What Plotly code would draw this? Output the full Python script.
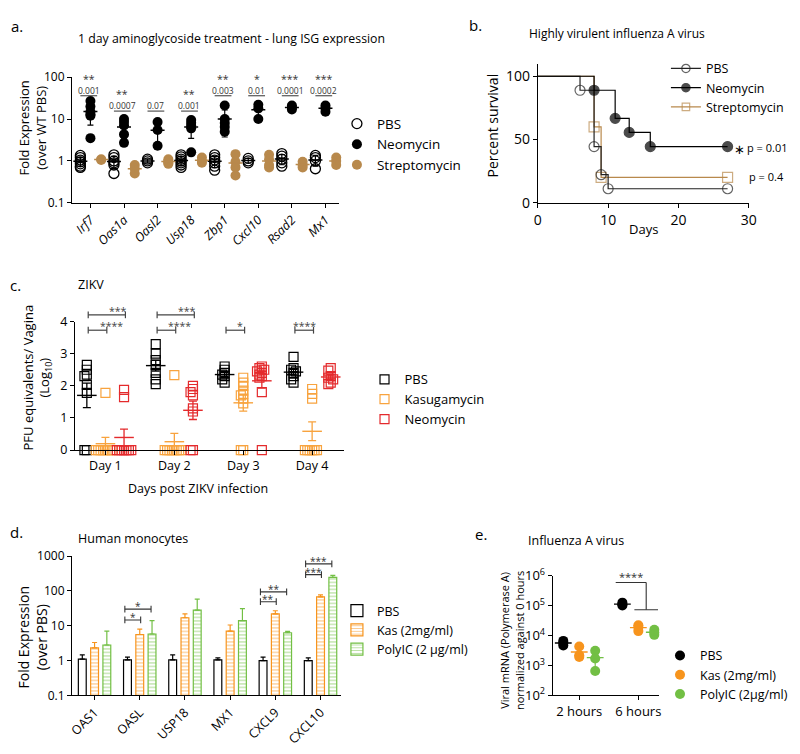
import numpy as np
import plotly.graph_objects as go

W, H = 800, 754
FONT = "Open Sans"
TAN = "#b8894c"
ORANGE_C = "#f8a33e"
RED_C = "#e42a2c"
ORANGE = "#f7941d"
GREEN = "#72bf44"

# ---------------- panel a data ----------------
genes_a = ["Irf7", "Oas1a", "Oasl2", "Usp18", "Zbp1", "Cxcl10", "Rsad2", "Mx1"]
pbs_a = [
    [1.35, 1.2, 1.05, 0.95, 0.85, 0.75, 0.7],
    [1.4, 1.2, 1.0, 0.9, 0.8, 0.5],
    [1.1, 1.0, 0.9],
    [1.4, 1.25, 1.1, 1.0, 0.9, 0.8, 0.7],
    [1.4, 1.2, 1.05, 0.9, 0.75, 0.6],
    [1.15, 1.0, 0.9],
    [1.5, 1.3, 1.1, 0.9, 0.75],
    [1.35, 1.2, 1.0, 0.65],
]
neo_a = [
    [27, 20, 15, 13, 12, 3.5],
    [10, 8.5, 7, 4.3, 2.7],
    [8.5, 5.5, 2.3],
    [9.5, 8.2, 7, 6, 1.6],
    [21, 10, 8, 6.5, 5],
    [22, 18, 10],
    [21, 19, 17],
    [21, 18, 15],
]
strep_a = [
    [1.1, 1.05],
    [0.8, 0.65, 0.5],
    [1.1, 1.0, 0.9, 0.85],
    [1.2, 1.0, 0.9],
    [1.45, 0.95, 0.7, 0.45],
    [1.4, 1.1, 0.8, 0.7],
    [0.95, 0.8, 0.7],
    [1.2, 1.0, 0.8],
]
pvals_a = ["0.001", "0.0007", "0.07", "0.001", "0.003", "0.01", "0.0001", "0.0002"]
stars_a = ["**", "**", "", "**", "**", "*", "***", "***"]

# ---------------- panel b data ----------------
km_days_pbs = [0, 6, 8, 9, 10, 27]
km_surv_pbs = [100, 88.9, 44.4, 22.2, 11.1, 11.1]
km_days_neo = [0, 8, 11, 13, 16, 27]
km_surv_neo = [100, 88.9, 66.7, 55.6, 44.4, 44.4]
km_days_strep = [0, 8, 9, 27]
km_surv_strep = [100, 60, 20, 20]

# ---------------- panel c data ----------------
days_c = ["Day 1", "Day 2", "Day 3", "Day 4"]
pbs_c = [
    [2.65, 2.5, 2.35, 2.3, 2.03, 1.78, 0, 0],
    [3.3, 3.0, 2.8, 2.65, 2.4, 2.2, 2.05],
    [2.6, 2.5, 2.4, 2.35, 2.3, 2.2, 2.1],
    [2.9, 2.55, 2.5, 2.45, 2.4, 2.3, 2.2, 2.1],
]
kas_c = [
    [1.78, 0, 0, 0, 0, 0, 0, 0, 0],
    [2.33, 0, 0, 0, 0, 0, 0, 0, 0],
    [2.25, 2.1, 2.0, 1.85, 1.75, 1.7, 1.6, 1.45, 0, 0],
    [1.9, 1.75, 1.6, 0, 0, 0, 0, 0, 0],
]
neo_c = [
    [1.87, 1.65, 0, 0, 0, 0, 0, 0, 0],
    [2.0, 1.9, 1.8, 1.7, 1.3, 1.2, 0, 0],
    [2.6, 2.55, 2.5, 2.5, 2.45, 2.4, 2.35, 2.3, 2.25, 1.8, 0],
    [2.55, 2.47, 2.3, 2.25, 2.2, 2.1, 2.05],
]

# ---------------- panel d data ----------------
genes_d = ["OAS1", "OASL", "USP18", "MX1", "CXCL9", "CXCL10"]
pbs_d = [1.1, 1.05, 1.05, 1.05, 1.0, 1.0]
pbs_d_top = [1.45, 1.25, 1.45, 1.2, 1.25, 1.2]
kas_d = [2.3, 5.6, 17, 7, 22, 68]
kas_d_top = [3.3, 8, 22, 10.5, 27, 77]
poly_d = [2.8, 5.8, 28, 14, 6.3, 245]
poly_d_top = [7, 14, 58, 31, 6.9, 280]

# ---------------- panel e data ----------------
times_e = ["2 hours", "6 hours"]
pbs_e = [[6600, 5600, 4600], [125000, 110000, 100000]]
kas_e = [[4300, 2200, 1900], [22000, 19000, 14000]]
poly_e = [[3100, 1700, 650], [15500, 12500, 10500]]

# ================= helpers =================
def PX(px):
    return px / W

def PY(py):
    return 1 - py / H

def axstyle(**kw):
    base = dict(showline=True, linecolor="black", linewidth=1, ticks="outside",
                ticklen=4, tickwidth=1, tickcolor="black", showgrid=False,
                zeroline=False, tickfont=dict(family=FONT, size=12, color="black"))
    base.update(kw)
    return base

annotations = []
shapes = []

def txt(px, py, text, size, xanchor="center", yanchor="middle", angle=0, color="black"):
    annotations.append(dict(x=PX(px), y=PY(py), xref="paper", yref="paper", text=text,
                            showarrow=False, xanchor=xanchor, yanchor=yanchor,
                            textangle=angle, font=dict(family=FONT, size=size, color=color)))

def swarm(vals, step, thr):
    placed = []
    offs = [0.0] * len(vals)
    order = sorted(range(len(vals)), key=lambda i: -vals[i])
    cands = [0.0]
    for j in range(1, 40):
        cands += [-j * step, j * step]
    for i in order:
        v = vals[i]
        for c in cands:
            if all(abs(v - pv) >= thr or abs(c - pc) >= step * 0.99 for pv, pc in placed):
                break
        placed.append((v, c))
        offs[i] = c
    return offs

fig = go.Figure()

# ================= panel a =================
groups_a = [("PBS", pbs_a, -0.3, dict(symbol="circle-open", color="black", size=10, line=dict(width=1.3, color="black"))),
            ("Neomycin", neo_a, 0.0, dict(symbol="circle", color="black", size=10)),
            ("Streptomycin", strep_a, 0.32, dict(symbol="circle", color=TAN, size=10))]
for name, data, off, mk in groups_a:
    xs, ys = [], []
    for i, vals in enumerate(data):
        xs += [i + off] * len(vals)
        ys += vals
    fig.add_trace(go.Scatter(x=xs, y=ys, mode="markers", marker=mk, name=name,
                             xaxis="x", yaxis="y", legend="legend", cliponaxis=False))
for name, data, off, mk in groups_a:
    col = "black" if name != "Streptomycin" else TAN
    means = [np.mean(v) for v in data]
    sds = [np.std(v, ddof=1) for v in data]
    fig.add_trace(go.Scatter(x=[i + off for i in range(len(data))], y=means, mode="markers",
                             marker=dict(symbol="line-ew", size=10, line=dict(width=1.5, color=col)),
                             error_y=dict(type="data", array=sds, color=col, thickness=1.2, width=3),
                             showlegend=False, xaxis="x", yaxis="y", hoverinfo="skip"))
sig_h_a = [36, 15.5, 15.5, 15.5, 36, 36, 36, 36]
for i in range(len(genes_a)):
    h = sig_h_a[i]
    fig.add_trace(go.Scatter(x=[i - 0.3, i + 0.2], y=[h, h], mode="lines",
                             line=dict(color="#333", width=1), showlegend=False,
                             xaxis="x", yaxis="y", hoverinfo="skip"))
    annotations.append(dict(x=i - 0.05, y=np.log10(h), xref="x", yref="y", text=pvals_a[i],
                            showarrow=False, yanchor="bottom", yshift=-2,
                            font=dict(family=FONT, size=8.5, color="#333")))
    if stars_a[i]:
        annotations.append(dict(x=i - 0.05, y=np.log10(h), xref="x", yref="y", text=stars_a[i],
                                showarrow=False, yanchor="bottom", yshift=8,
                                font=dict(family=FONT, size=10.5, color="#333")))

# ================= panel b =================
km = [("Streptomycin", km_days_strep, km_surv_strep, TAN, "square-open"),
      ("PBS", km_days_pbs, km_surv_pbs, "#222", "circle-open"),
      ("Neomycin", km_days_neo, km_surv_neo, "black", "circle")]
for name, d, s, col, sym in km:
    sizes = [0] + [10] * (len(d) - 1)
    fig.add_trace(go.Scatter(x=d, y=s, mode="lines+markers", line_shape="hv",
                             line=dict(color=col, width=1.2),
                             marker=dict(symbol=sym, size=sizes, color=col, line=dict(width=1.2, color=col)),
                             name=name, xaxis="x2", yaxis="y2", legend="legend2",
                             legendrank={"PBS": 1, "Neomycin": 2, "Streptomycin": 3}[name],
                             cliponaxis=False))

# ================= panel c =================
offs_c = {"PBS": -0.27, "Kasugamycin": 0.0, "Neomycin": 0.27}
groups_c = [("PBS", pbs_c, "black"), ("Kasugamycin", kas_c, ORANGE_C), ("Neomycin", neo_c, RED_C)]
for name, data, col in groups_c:
    xs, ys = [], []
    for d, vals in enumerate(data):
        jit = swarm(vals, 0.035, 0.1)
        xs += [d + 1 + offs_c[name] + j for j in jit]
        ys += vals
    fig.add_trace(go.Scatter(x=xs, y=ys, mode="markers", name=name,
                             marker=dict(symbol="square-open", size=9, color=col, line=dict(width=1.2, color=col)),
                             xaxis="x3", yaxis="y3", legend="legend3", cliponaxis=False))
for name, data, col in groups_c:
    means = [np.mean(v) for v in data]
    sems = [np.std(v, ddof=1) / np.sqrt(len(v)) for v in data]
    fig.add_trace(go.Scatter(x=[d + 1 + offs_c[name] for d in range(len(data))], y=means, mode="markers",
                             marker=dict(symbol="line-ew", size=14, line=dict(width=1.4, color=col)),
                             error_y=dict(type="data", array=sems, color=col, thickness=1.3, width=4),
                             showlegend=False, xaxis="x3", yaxis="y3", hoverinfo="skip", cliponaxis=False))

dom_x3 = [PX(72), PX(345)]
rng_x3 = [0.557, 4.46]
dom_y3 = [PY(451), PY(319)]
rng_y3 = [0, 4]

def c2p_x(v):
    return dom_x3[0] + (v - rng_x3[0]) / (rng_x3[1] - rng_x3[0]) * (dom_x3[1] - dom_x3[0])

def c2p_y(v):
    return dom_y3[0] + (v - rng_y3[0]) / (rng_y3[1] - rng_y3[0]) * (dom_y3[1] - dom_y3[0])

brackets_c = [(1, "Kasugamycin", 3.73, "****"), (1, "Neomycin", 4.21, "***"),
              (2, "Kasugamycin", 3.73, "****"), (2, "Neomycin", 4.21, "***"),
              (3, "Kasugamycin", 3.73, "*"), (4, "Kasugamycin", 3.73, "****")]
cap = 3.5 / H
for day, other, h, st in brackets_c:
    x0 = c2p_x(day + offs_c["PBS"] + 0.02)
    x1 = c2p_x(day + offs_c[other] + 0.02)
    y = c2p_y(h)
    for (a0, b0, a1, b1) in [(x0, y, x1, y), (x0, y - cap, x0, y + cap), (x1, y - cap, x1, y + cap)]:
        shapes.append(dict(type="line", xref="paper", yref="paper", x0=a0, y0=b0, x1=a1, y1=b1,
                           line=dict(color="#444", width=1.2)))
    annotations.append(dict(x=(x0 + x1) / 2, y=y, xref="paper", yref="paper", text=st, showarrow=False,
                            yanchor="bottom", yshift=-5, font=dict(family=FONT, size=10.5, color="#444")))

# ================= panel d =================
groups_d = [("PBS", pbs_d, pbs_d_top, "black", ""), ("Kas (2mg/ml)", kas_d, kas_d_top, ORANGE, "-"),
            ("PolyIC (2 µg/ml)", poly_d, poly_d_top, GREEN, "-")]
for name, vals, tops, col, pat in groups_d:
    mk = dict(color="white", line=dict(color=col, width=1.2))
    if pat:
        mk["pattern"] = dict(shape=pat, fgcolor=col, bgcolor="white", size=3.5, solidity=0.35)
    fig.add_trace(go.Bar(x=list(range(len(genes_d))), y=vals, name=name, marker=mk,
                         error_y=dict(type="data", symmetric=False,
                                      array=[t - v for t, v in zip(tops, vals)],
                                      arrayminus=[0] * len(vals), color=col, thickness=1.2, width=2.5),
                         xaxis="x4", yaxis="y4", legend="legend4"))
brackets_d = [(1, 14.7, 0.02, "*"), (1, 30, 0.25, "*"), (4, 49, 0.02, "**"), (4, 94, 0.25, "**"),
              (5, 295, 0.02, "***"), (5, 600, 0.25, "***")]
capf = 10 ** (3.5 / 36)
for g, h, right, st in brackets_d:
    x0, x1 = g - 0.33, g + right
    for xx, yy in [([x0, x1], [h, h]), ([x0, x0], [h / capf, h * capf]), ([x1, x1], [h / capf, h * capf])]:
        fig.add_trace(go.Scatter(x=xx, y=yy, mode="lines", line=dict(color="#333", width=1.1),
                                 showlegend=False, xaxis="x4", yaxis="y4", hoverinfo="skip"))
    annotations.append(dict(x=(x0 + x1) / 2, y=np.log10(h), xref="x4", yref="y4", text=st, showarrow=False,
                            yanchor="bottom", yshift=-6, font=dict(family=FONT, size=10, color="#333")))

# ================= panel e =================
offs_e = [-0.27, 0.0, 0.27]
groups_e = [("PBS", pbs_e, "black"), ("Kas (2mg/ml)", kas_e, ORANGE), ("PolyIC (2µg/ml)", poly_e, GREEN)]
for k, (name, data, col) in enumerate(groups_e):
    xs, ys = [], []
    for t, vals in enumerate(data):
        xs += [t + offs_e[k]] * len(vals)
        ys += vals
    fig.add_trace(go.Scatter(x=xs, y=ys, mode="markers", name=name,
                             marker=dict(symbol="circle", size=10, color=col),
                             xaxis="x5", yaxis="y5", legend="legend5", cliponaxis=False))
for k, (name, data, col) in enumerate(groups_e):
    means = [np.mean(v) for v in data]
    sds = [np.std(v, ddof=1) for v in data]
    fig.add_trace(go.Scatter(x=[t + offs_e[k] for t in range(len(data))], y=means, mode="markers",
                             marker=dict(symbol="line-ew", size=12, line=dict(width=1.4, color=col)),
                             error_y=dict(type="data", array=sds, color=col, thickness=1.2, width=3),
                             showlegend=False, xaxis="x5", yaxis="y5", hoverinfo="skip"))
hb, lb = 10 ** 5.77, 10 ** 4.86
for xx, yy in [([0.617, 1.133], [hb, hb]), ([1.133, 1.133], [hb, lb]), ([0.933, 1.333], [lb, lb])]:
    fig.add_trace(go.Scatter(x=xx, y=yy, mode="lines", line=dict(color="#333", width=1.1),
                             showlegend=False, xaxis="x5", yaxis="y5", hoverinfo="skip"))
annotations.append(dict(x=0.883, y=5.77, xref="x5", yref="y5", text="****", showarrow=False,
                        yanchor="bottom", yshift=-4, font=dict(family=FONT, size=11, color="#333")))

# ================= text =================
txt(13, 15, "a.", 15)
txt(231, 28, "1 day aminoglycoside treatment - lung ISG expression", 12.3)
txt(29, 120, "Fold Expression<br>(over WT PBS)", 13, angle=-90)

txt(479, 14, "b.", 15)
txt(622, 23, "Highly virulent influenza A virus", 12)
txt(496, 118, "Percent survival", 14, angle=-90)
txt(649, 224, "Days", 13)
txt(747, 142, "∗", 13)
txt(752, 140, "p = 0.01", 11, xanchor="left")
txt(754, 170, "p = 0.4", 11, xanchor="left")

txt(12, 281, "c.", 15)
txt(73, 281, "ZIKV", 12.5, xanchor="left")
txt(33, 377, "PFU equivalents/ Vagina<br>(Log<sub>10</sub>)", 13, angle=-90)
txt(197, 490, "Days post ZIKV infection", 12.5)

txt(13, 535, "d.", 15)
txt(73, 542, "Human monocytes", 12.5, xanchor="left")
txt(29, 643, "Fold Expression<br>(over PBS)", 14, angle=-90)

txt(484, 537, "e.", 15)
txt(530, 544, "Influenza A virus", 12.5, xanchor="left")
txt(516, 647, "Viral mRNA (Polymerase A)<br>normalized against 0 hours", 11, angle=-90)

def legend_style(px, py, size, gap=0):
    return dict(x=PX(px), y=PY(py), xanchor="left", yanchor="top", bgcolor="rgba(0,0,0,0)",
                font=dict(family=FONT, size=size, color="black"), tracegroupgap=gap,
                itemwidth=30, traceorder="normal")

fig.update_layout(
    width=W, height=H, margin=dict(l=0, r=0, t=0, b=0),
    paper_bgcolor="white", plot_bgcolor="white", showlegend=True,
    barmode="group", bargap=0.185, bargroupgap=0.36,
    font=dict(family=FONT, color="black"),
    xaxis=axstyle(domain=[PX(69), PX(340)], range=[-0.55, 7.4], tickvals=list(range(8)),
                  ticktext=[f"<i>{g}</i>" for g in genes_a], tickangle=-45, anchor="y",
                  tickfont=dict(family=FONT, size=12.5, color="black")),
    yaxis=axstyle(type="log", domain=[PY(197), PY(68)], range=[-1, 2], tickvals=[0.1, 1, 10, 100],
                  ticktext=["0.1", "1", "10", "100"], anchor="x",
                  tickfont=dict(family=FONT, size=12, color="black")),
    xaxis2=axstyle(domain=[PX(542), PX(756)], range=[0, 30], tickvals=[0, 10, 20, 30], anchor="y2",
                   tickfont=dict(family=FONT, size=14, color="black")),
    yaxis2=axstyle(domain=[PY(197), PY(54)], range=[0, 110], tickvals=[0, 50, 100], anchor="x2",
                   tickfont=dict(family=FONT, size=14, color="black")),
    xaxis3=axstyle(domain=dom_x3, range=rng_x3, tickvals=[1, 2, 3, 4], ticktext=days_c, anchor="y3",
                   tickfont=dict(family=FONT, size=12.5, color="black")),
    yaxis3=axstyle(domain=dom_y3, range=rng_y3, tickvals=[0, 1, 2, 3, 4], anchor="x3",
                   tickfont=dict(family=FONT, size=12.5, color="black")),
    xaxis4=axstyle(domain=[PX(69), PX(342)], range=[-0.5, 5.45], tickvals=list(range(6)),
                   ticktext=genes_d, tickangle=-45, anchor="y4",
                   tickfont=dict(family=FONT, size=12.5, color="black")),
    yaxis4=axstyle(type="log", domain=[PY(703), PY(560)], range=[-1, 3],
                   tickvals=[0.1, 1, 10, 100, 1000], ticktext=["0.1", "1", "10", "100", "1000"], anchor="x4",
                   tickfont=dict(family=FONT, size=12, color="black")),
    xaxis5=axstyle(domain=[PX(557), PX(665)], range=[-0.45, 1.35], tickvals=[0, 1], ticktext=times_e,
                   anchor="y5", tickfont=dict(family=FONT, size=13, color="black")),
    yaxis5=axstyle(type="log", domain=[PY(703), PY(580)], range=[2, 6],
                   tickvals=[1e2, 1e3, 1e4, 1e5, 1e6],
                   ticktext=[f"10<sup>{k}</sup>" for k in range(2, 7)], anchor="x5",
                   tickfont=dict(family=FONT, size=13, color="black")),
    legend=legend_style(338, 100, 13.5),
    legend2=legend_style(672, 44, 12.5),
    legend3=legend_style(366, 363, 13),
    legend4=legend_style(338, 601, 12.5),
    legend5=legend_style(666, 647, 12.5),
    annotations=annotations, shapes=shapes,
)

fig.write_html("out.html", config={"displayModeBar": False},
               post_script="document.body.style.margin='0';document.body.style.overflow='hidden';")
